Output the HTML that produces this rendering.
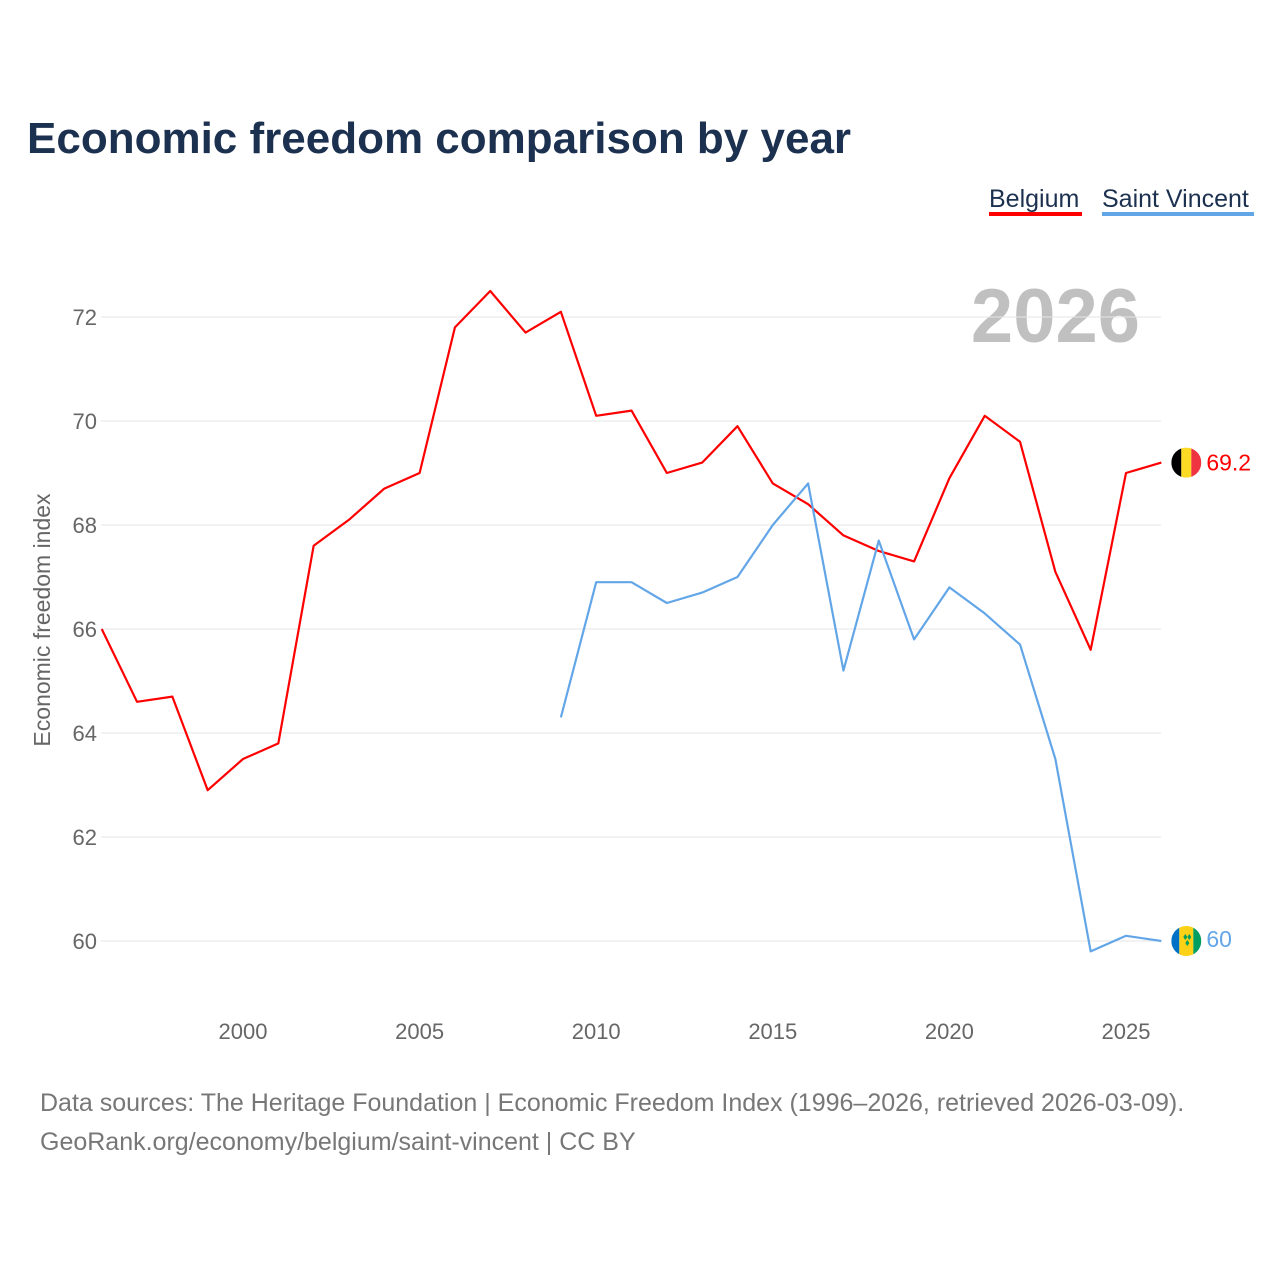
<!DOCTYPE html>
<html><head><meta charset="utf-8">
<style>
html,body{margin:0;padding:0;background:#fff;width:1280px;height:1280px;overflow:hidden}
body{font-family:"Liberation Sans",sans-serif}
</style></head>
<body>
<svg width="1280" height="1280" xmlns="http://www.w3.org/2000/svg">
<text x="27" y="153" font-size="44" font-weight="bold" fill="#1c3150">Economic freedom comparison by year</text>
<g>
<text x="989" y="207" font-size="25" fill="#1c3150">Belgium</text>
<rect x="989" y="212" width="93" height="4" fill="#f00"/>
<text x="1102" y="207" font-size="25" fill="#1c3150">Saint Vincent</text>
<rect x="1102" y="212" width="152" height="4" fill="#63a6e8"/>
</g>
<text x="1140" y="342" font-size="76" font-weight="bold" fill="#c0c0c0" text-anchor="end">2026</text>
<text transform="translate(50,620) rotate(-90)" font-size="23" fill="#666" text-anchor="middle">Economic freedom index</text>
<g id="grid"></g><g id="xt"></g><g id="lines"></g>
<text x="40" y="1111" font-size="25" fill="#777">Data sources: The Heritage Foundation | Economic Freedom Index (1996–2026, retrieved 2026-03-09).</text>
<text x="40" y="1150" font-size="25" fill="#777">GeoRank.org/economy/belgium/saint-vincent | CC BY</text>
</svg>
<script>
const yTicks=[60,62,64,66,68,70,72];
const xTicks=[2000,2005,2010,2015,2020,2025];
const belgiumYears=[1996,1997,1998,1999,2000,2001,2002,2003,2004,2005,2006,2007,2008,2009,2010,2011,2012,2013,2014,2015,2016,2017,2018,2019,2020,2021,2022,2023,2024,2025,2026];
const belgiumValues=[66.0,64.6,64.7,62.9,63.5,63.8,67.6,68.1,68.7,69.0,71.8,72.5,71.7,72.1,70.1,70.2,69.0,69.2,69.9,68.8,68.4,67.8,67.5,67.3,68.9,70.1,69.6,67.1,65.6,69.0,69.2];
const svgYears=[2009,2010,2011,2012,2013,2014,2015,2016,2017,2018,2019,2020,2021,2022,2023,2024,2025,2026];
const svgValues=[64.3,66.9,66.9,66.5,66.7,67.0,68.0,68.8,65.2,67.7,65.8,66.8,66.3,65.7,63.5,59.8,60.1,60.0];
const NS="http://www.w3.org/2000/svg";
const X=y=>243+(y-2000)*35.32;
const Y=v=>941-(v-60)*52;
function mk(t,a,p){const e=document.createElementNS(NS,t);for(const k in a)e.setAttribute(k,a[k]);p.appendChild(e);return e;}
const grid=document.getElementById('grid');
yTicks.forEach(v=>{
 const l=mk('line',{x1:101,x2:1161,y1:Y(v),y2:Y(v),stroke:'#e6e6e6','stroke-width':1},grid);
 
 
 const t=mk('text',{x:97,y:Y(v)+8,'font-size':22,fill:'#666','text-anchor':'end'},grid);
 t.textContent=v;
 
 
});
const xt=document.getElementById('xt');
xTicks.forEach(v=>{
 const t=mk('text',{x:X(v),y:1039,'font-size':22,fill:'#666','text-anchor':'middle'},xt);
 t.textContent=v;
 
 
});
const lines=document.getElementById('lines');
function series(yrs,vals,col,name){
 const p=mk('polyline',{points:yrs.map((y,i)=>X(y)+','+Y(vals[i])).join(' '),fill:'none',stroke:col,'stroke-width':2.2,'stroke-linejoin':'round'},lines);
 
 
 return [X(yrs[yrs.length-1]),Y(vals[vals.length-1]),vals[vals.length-1]];
}
const b=series(belgiumYears,belgiumValues,'#f00','belgium');
const s=series(svgYears,svgValues,'#63a6e8','saint-vincent');
// Belgium flag
const fx=b[0]+25,fy=b[1];
mk('clipPath',{id:'cb'},lines);
mk('circle',{cx:fx,cy:fy,r:15},document.getElementById('cb'));
const gb=mk('g',{'clip-path':'url(#cb)'},lines);


mk('rect',{x:fx-15,y:fy-15,width:10,height:30,fill:'#000'},gb);
mk('rect',{x:fx-5,y:fy-15,width:10,height:30,fill:'#fdda24'},gb);
mk('rect',{x:fx+5,y:fy-15,width:10,height:30,fill:'#ef3340'},gb);
const bl=mk('text',{x:fx+20,y:fy+8,'font-size':23,fill:'#f00'},lines);
bl.textContent=b[2].toFixed(1);


// SVG flag
const sx=s[0]+25,sy=s[1];
mk('clipPath',{id:'cs'},lines);
mk('circle',{cx:sx,cy:sy,r:15},document.getElementById('cs'));
const gs=mk('g',{'clip-path':'url(#cs)'},lines);


mk('rect',{x:sx-15,y:sy-15,width:8,height:30,fill:'#0072c6'},gs);
mk('rect',{x:sx-7,y:sy-15,width:14,height:30,fill:'#fcd116'},gs);
mk('rect',{x:sx+7,y:sy-15,width:8,height:30,fill:'#009e60'},gs);
mk('path',{d:`M${sx-3} ${sy-4}l2 -3l2 3l-2 3z M${sx+1} ${sy-4}l2 -3l2 3l-2 3z M${sx-1} ${sy+2}l2 -3l2 3l-2 3z`,fill:'#009e60'},gs);
const sl=mk('text',{x:sx+20,y:sy+6,'font-size':23,fill:'#63a6e8'},lines);
sl.textContent=+s[2].toFixed(1)+'';


</script>
</body></html>
